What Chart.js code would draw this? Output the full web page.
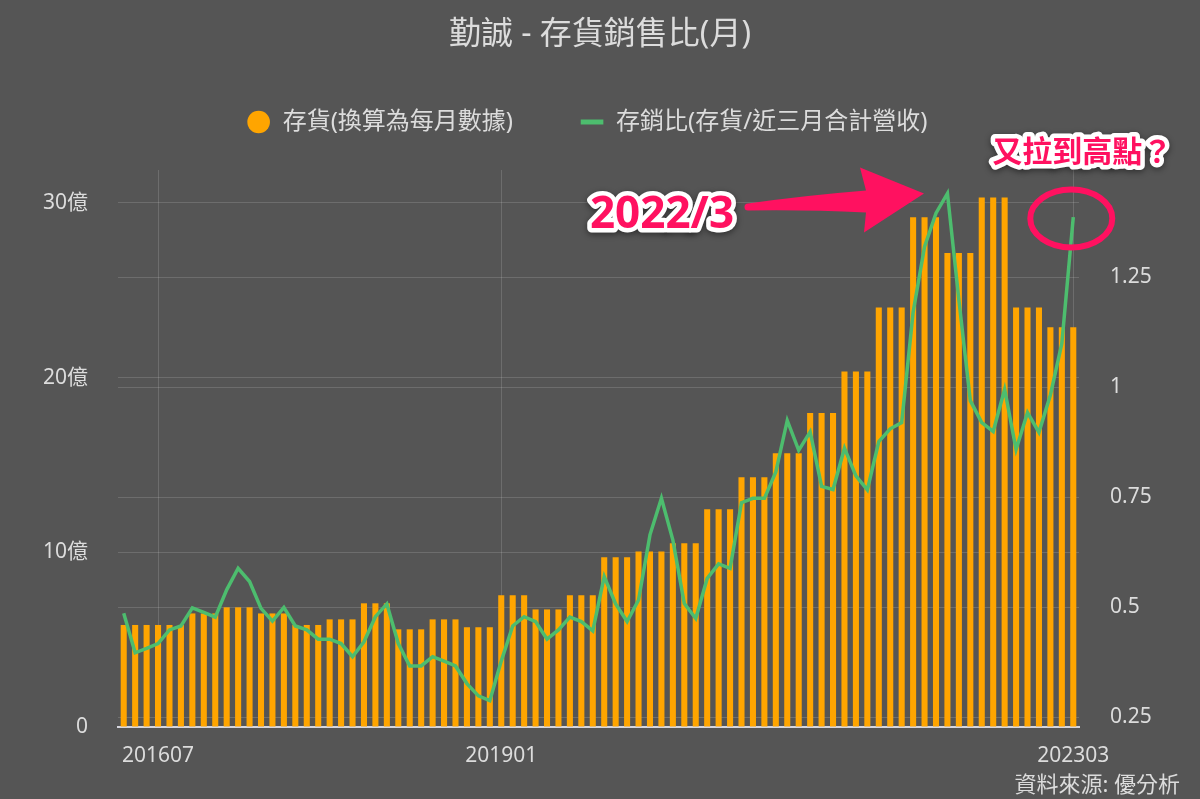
<!DOCTYPE html>
<html>
<head>
<meta charset="utf-8">
<script src="https://cdn.jsdelivr.net/npm/chart.js@4.4.0/dist/chart.umd.min.js"></script>
<style>
  html, body { margin: 0; padding: 0; background: #555555; }
  #wrap { width: 1200px; height: 799px; position: relative; }
</style>
</head>
<body>
<div id="wrap"><canvas id="chart"></canvas></div>
<script>
const months = [
    '201604', '201605', '201606', '201607', '201608', '201609', '201610', '201611', '201612',
    '201701', '201702', '201703', '201704', '201705', '201706', '201707', '201708', '201709', '201710', '201711', '201712',
    '201801', '201802', '201803', '201804', '201805', '201806', '201807', '201808', '201809', '201810', '201811', '201812',
    '201901', '201902', '201903', '201904', '201905', '201906', '201907', '201908', '201909', '201910', '201911', '201912',
    '202001', '202002', '202003', '202004', '202005', '202006', '202007', '202008', '202009', '202010', '202011', '202012',
    '202101', '202102', '202103', '202104', '202105', '202106', '202107', '202108', '202109', '202110', '202111', '202112',
    '202201', '202202', '202203', '202204', '202205', '202206', '202207', '202208', '202209', '202210', '202211', '202212',
    '202301', '202302', '202303'
];

// 存貨 (億), 每季數據換算為每月
const inventory = [
    5.84, 5.84, 5.84, 5.84, 5.84, 5.84, 6.50, 6.50, 6.50,
    6.85, 6.85, 6.85, 6.50, 6.50, 6.50, 5.84, 5.84, 5.84, 6.16, 6.16, 6.16,
    7.08, 7.08, 7.08, 5.59, 5.59, 5.59, 6.16, 6.16, 6.16, 5.71, 5.71, 5.71,
    7.54, 7.54, 7.54, 6.73, 6.73, 6.73, 7.54, 7.54, 7.54, 9.71, 9.71, 9.71,
    10.05, 10.05, 10.05, 10.51, 10.51, 10.51, 12.46, 12.46, 12.46, 14.29, 14.29, 14.29,
    15.67, 15.67, 15.67, 17.97, 17.97, 17.97, 20.35, 20.35, 20.35, 24.01, 24.01, 24.01,
    29.17, 29.17, 29.17, 27.13, 27.13, 27.13, 30.30, 30.30, 30.30, 24.01, 24.01, 24.01,
    22.88, 22.88, 22.88
];

// 存銷比 (存貨/近三月合計營收)
const ratio = [
    0.486, 0.396, 0.406, 0.417, 0.448, 0.457, 0.498, 0.488, 0.477,
    0.539, 0.588, 0.558, 0.497, 0.468, 0.499, 0.457, 0.448, 0.427, 0.427, 0.417, 0.387,
    0.421, 0.478, 0.507, 0.417, 0.366, 0.366, 0.387, 0.377, 0.366, 0.326, 0.298, 0.287,
    0.377, 0.457, 0.478, 0.467, 0.427, 0.448, 0.477, 0.467, 0.446, 0.569, 0.507, 0.467,
    0.516, 0.664, 0.747, 0.652, 0.508, 0.474, 0.565, 0.598, 0.588, 0.737, 0.747, 0.747,
    0.807, 0.924, 0.856, 0.898, 0.774, 0.767, 0.861, 0.798, 0.766, 0.876, 0.905, 0.919,
    1.170, 1.319, 1.395, 1.440, 1.198, 0.969, 0.919, 0.899, 0.995, 0.858, 0.942, 0.897,
    0.982, 1.099, 1.386
];

const xTickLabels = ['201607', '201901', '202303'];
const leftTicks = [0, 10, 20, 30];
const rightTicks = [0.25, 0.5, 0.75, 1, 1.25];

const PINK = '#ff1160';
const TEXT = '#dcdcdc';
const GRID = 'rgba(255, 255, 255, 0.14)';
const FONT = "'Noto Sans', 'Noto Sans CJK TC', sans-serif";

function outlinedText(ctx, text, x, y, font) {
    ctx.save();
    ctx.font = font;
    ctx.textAlign = 'center';
    ctx.textBaseline = 'middle';
    ctx.lineJoin = 'round';
    ctx.shadowColor = 'rgba(0, 0, 0, 0.45)';
    ctx.shadowBlur = 6;
    ctx.shadowOffsetY = 2;
    ctx.strokeStyle = '#ffffff';
    ctx.lineWidth = 9;
    ctx.strokeText(text, x, y);
    ctx.shadowColor = 'transparent';
    ctx.fillStyle = PINK;
    ctx.fillText(text, x, y);
    ctx.restore();
}

const background = {
    id: 'background',
    beforeDraw(chart) {
        const ctx = chart.ctx;
        ctx.save();
        ctx.fillStyle = '#555555';
        ctx.fillRect(0, 0, chart.width, chart.height);
        ctx.restore();
    }
};

// nudge the legend a little up and to the left, like the original
const legendShift = {
    id: 'legendShift',
    afterLayout(chart) {
        const lg = chart.legend;
        lg.left -= 13;
        lg.right -= 13;
        lg.top -= 11.4;
        lg.bottom -= 11.4;
    }
};

const annotations = {
    id: 'annotations',
    afterDraw(chart) {
        const ctx = chart.ctx;
        const x = chart.scales.x;
        const yR = chart.scales.yR;

        // arrow pointing at 2022/3
        const tipX = x.getPixelForValue(71) - 12;
        const tipY = yR.getPixelForValue(1.44);
        ctx.save();
        ctx.fillStyle = PINK;
        ctx.beginPath();
        ctx.moveTo(tipX - 176, tipY + 10);
        ctx.quadraticCurveTo(tipX - 120, tipY + 2, tipX - 58, tipY - 3);
        ctx.lineTo(tipX - 64, tipY - 26);
        ctx.lineTo(tipX, tipY);
        ctx.lineTo(tipX - 60, tipY + 39);
        ctx.lineTo(tipX - 58, tipY + 19);
        ctx.quadraticCurveTo(tipX - 120, tipY + 16, tipX - 176, tipY + 17);
        ctx.arc(tipX - 176, tipY + 13.5, 3.5, Math.PI / 2, Math.PI * 1.5);
        ctx.closePath();
        ctx.fill();

        // circle around the latest point
        const cx = x.getPixelForValue(83) - 2;
        const cy = yR.getPixelForValue(1.383);
        ctx.strokeStyle = PINK;
        ctx.lineWidth = 6;
        ctx.beginPath();
        ctx.ellipse(cx, cy, 41, 29, 0, 0, Math.PI * 2);
        ctx.stroke();
        ctx.restore();

        outlinedText(ctx, '2022/3', tipX - 262, tipY + 22, "bold 44px 'Noto Sans', sans-serif");
        outlinedText(ctx, '又拉到高點？', cx + 11, cy - 68, "bold 30px 'Noto Sans CJK TC', sans-serif");

        // source note
        ctx.save();
        ctx.font = "22px " + FONT;
        ctx.fillStyle = TEXT;
        ctx.textAlign = 'right';
        ctx.textBaseline = 'middle';
        ctx.fillText('資料來源: 優分析', 1180, 786);
        ctx.restore();
    }
};

new Chart(document.getElementById('chart'), {
    type: 'bar',
    data: {
        labels: months,
        datasets: [{
            type: 'bar',
            label: '存貨(換算為每月數據)',
            data: inventory,
            yAxisID: 'y',
            backgroundColor: '#ffa500',
            borderWidth: 0,
            categoryPercentage: 1,
            barPercentage: 0.53,
            pointStyle: 'circle',
            order: 2
        }, {
            type: 'line',
            label: '存銷比(存貨/近三月合計營收)',
            data: ratio,
            yAxisID: 'yR',
            borderColor: '#4dbd6e',
            backgroundColor: '#4dbd6e',
            borderWidth: 3.5,
            pointRadius: 0,
            tension: 0,
            pointStyle: 'line',
            order: 1
        }]
    },
    options: {
        responsive: true,
        maintainAspectRatio: false,
        animation: false,
        layout: { padding: 0 },
        plugins: {
            title: {
                display: true,
                text: '勤誠 - 存貨銷售比(月)',
                color: TEXT,
                font: { family: FONT, size: 32, weight: 'normal' },
                padding: { top: 16, bottom: 0 }
            },
            subtitle: {
                // empty spacer between legend and plot area
                display: true,
                text: '',
                position: 'top',
                weight: 500,
                font: { size: 1 },
                padding: { top: 0, bottom: 13.4 }
            },
            legend: {
                position: 'top',
                labels: {
                    usePointStyle: true,
                    boxHeight: 16,
                    padding: 67,
                    color: TEXT,
                    font: { family: FONT, size: 24 },
                    sort: (a, b) => a.datasetIndex - b.datasetIndex,
                    generateLabels(chart) {
                        const items = Chart.defaults.plugins.legend.labels.generateLabels(chart);
                        items.forEach(item => {
                            if (item.datasetIndex === 1) item.lineWidth = 5;
                        });
                        return items;
                    }
                }
            },
            tooltip: { enabled: false }
        },
        scales: {
            x: {
                type: 'category',
                offset: true,
                grid: { offset: false, color: GRID, drawTicks: false },
                border: { display: true, color: '#d6d6de', width: 2 },
                ticks: {
                    autoSkip: false,
                    maxRotation: 0,
                    padding: 16,
                    color: TEXT,
                    font: { family: FONT, size: 21 }
                },
                afterBuildTicks: scale => {
                    scale.ticks = scale.ticks.filter(t => xTickLabels.includes(months[t.value]));
                },
                afterFit: scale => { scale.height = 72; }
            },
            y: {
                position: 'left',
                min: 0,
                max: 31.88,
                grid: { color: GRID, drawTicks: false },
                border: { display: false },
                ticks: {
                    padding: 30,
                    color: TEXT,
                    font: { family: FONT, size: 21 },
                    callback: v => v === 0 ? '0' : v + '億'
                },
                afterBuildTicks: scale => {
                    scale.ticks = leftTicks.map(v => ({ value: v }));
                },
                afterFit: scale => { scale.width = 118; }
            },
            yR: {
                position: 'right',
                min: 0.2273,
                max: 1.4932,
                grid: { color: GRID, drawTicks: false },
                border: { display: false },
                ticks: {
                    padding: 31,
                    color: TEXT,
                    font: { family: FONT, size: 21 },
                    callback: v => String(v)
                },
                afterBuildTicks: scale => {
                    scale.ticks = rightTicks.map(v => ({ value: v }));
                },
                afterFit: scale => { scale.width = 121; }
            }
        }
    },
    plugins: [background, legendShift, annotations]
});
</script>
</body>
</html>
